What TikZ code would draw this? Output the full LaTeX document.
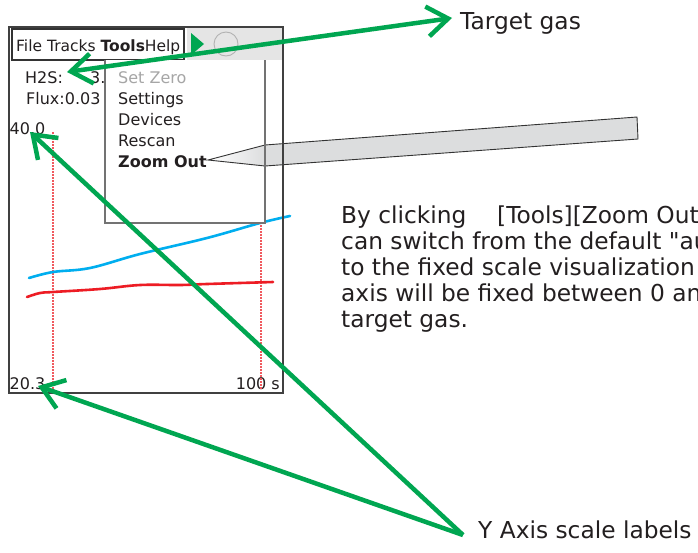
\documentclass[tikz,border=0pt]{standalone}
\usepackage{fontspec}
\setmainfont{DejaVu Sans}
\newfontfamily\plainqfont{DejaVu Sans}
\usetikzlibrary{arrows.meta}
\definecolor{ggreen}{RGB}{0,166,81}
\definecolor{txt}{RGB}{35,31,32}
\definecolor{cblue}{RGB}{0,174,239}
\definecolor{cred}{RGB}{237,28,36}
\definecolor{gpink}{RGB}{240,90,95}
\definecolor{barfill}{RGB}{220,221,222}
\begin{document}
\begin{tikzpicture}[x=1pt,y=-1pt,
  >={Straight Barb[length=21pt,width=30pt]},
  ui/.style={font=\fontsize{16}{18}\selectfont, text=txt, inner sep=0pt, anchor=base west},
  big/.style={font=\fontsize{23.3}{26}\selectfont, text=txt, inner sep=0pt, anchor=base west},
  garrow/.style={draw=ggreen, line width=4.5pt, line join=miter},
  frame/.style={draw=black!75, line width=1.4pt},
  curve/.style={line width=2.6pt, line cap=round},
  guide/.style={color=gpink, line width=1.1pt, dash pattern=on 1.5pt off 1.5pt}]
\useasboundingbox (0,0) rectangle (698,552);
\fill[white] (0,0) rectangle (698,552);
% window
\draw[frame, fill=white] (9,27) rectangle (283,393);
\fill[black!10] (187,28) rectangle (282.3,60);
\fill[ggreen] (191,33) -- (204,44) -- (191,55) -- cycle;
\draw[black!30, line width=0.9pt] (226,44) circle (12);
\draw[draw=black!80, line width=1.2pt] (12,29) rectangle (184,60);
\node[ui, font=\fontsize{15.5}{18}\selectfont] (menubar) at (16,51) {File Tracks \textbf{Tools}Help};
\node[ui] (h2s) at (25,83) {H2S:};
\node[ui] (h2sv) at (90,83) {3.};
\node[ui] (flux) at (26,104) {Flux:0.03};
\node[ui] (ymax) at (9.5,134) {40.0};
\node[ui] (ymin) at (9.5,389) {20.3};
\node[ui, anchor=base east] (xmax) at (280,389) {100 s};
% guides and curves
\draw[guide, draw=gpink] (53,132) -- (53,390);
\draw[guide, draw=gpink] (261,132) -- (261,390);
\draw[curve, cblue] plot[smooth, tension=0.6] coordinates {(29,278) (53,272) (90,268) (140,254) (207,238) (260,223) (290,216)};
\draw[curve, cred] plot[smooth, tension=0.6] coordinates {(27,297) (40,293) (53,292) (100,289) (140,285) (180,285) (207,284) (273,282)};
% dropdown
\fill[white] (105,60) rectangle (265,223);
\node[ui, text=black!35] (m1) at (118,83) {Set Zero};
\node[ui] (m2) at (118,104) {Settings};
\node[ui] (m3) at (118,125) {Devices};
\node[ui] (m4) at (118,146) {Rescan};
\node[ui, font=\fontsize{16}{18}\selectfont\bfseries] (m5) at (118,167) {Zoom Out};
% callout
\fill[barfill] (265,145) -- (637,117) -- (638,139) -- (265,166) -- cycle;
\shade[left color=white, right color=barfill] (208,160) -- (265,145) -- (265,166) -- cycle;
\draw[black!80, line width=0.9pt, line join=miter] (208,160) -- (265,145) -- (637,117) -- (638,139) -- (265,166) -- cycle;
\draw[black!55, line width=1.4pt] (105,60) -- (105,223) -- (265,223) -- (265,60);
\draw[frame] (283,27) -- (283,393);
% right texts
\node[big] (target) at (460,29) {Target gas};
\node[big] (p1) at (341,223) {By clicking\hspace{1.0em} [Tools][Zoom Out};
\node[big] (p2) at (341,249) {can switch from the default {\plainqfont"}au};
\node[big] (p3) at (341,275) {to the fixed scale visualization};
\node[big] (p4) at (341,301) {axis will be fixed between 0 an};
\node[big] (p5) at (341,327) {target gas.};
\node[big] (ylab) at (478,538) {Y Axis scale labels};
% green arrows
\coordinate (tgtip) at (452,18);
\coordinate (h2stip) at (67,72);
\coordinate (yhub) at (463,535);
\coordinate (ymaxtip) at (30,132);
\coordinate (ymintip) at (38,386);
\draw[garrow, <->] (h2stip) -- (tgtip);
\draw[garrow, ->] (yhub) -- (ymaxtip);
\draw[garrow, ->] (yhub) -- (ymintip);
\end{tikzpicture}
\end{document}
